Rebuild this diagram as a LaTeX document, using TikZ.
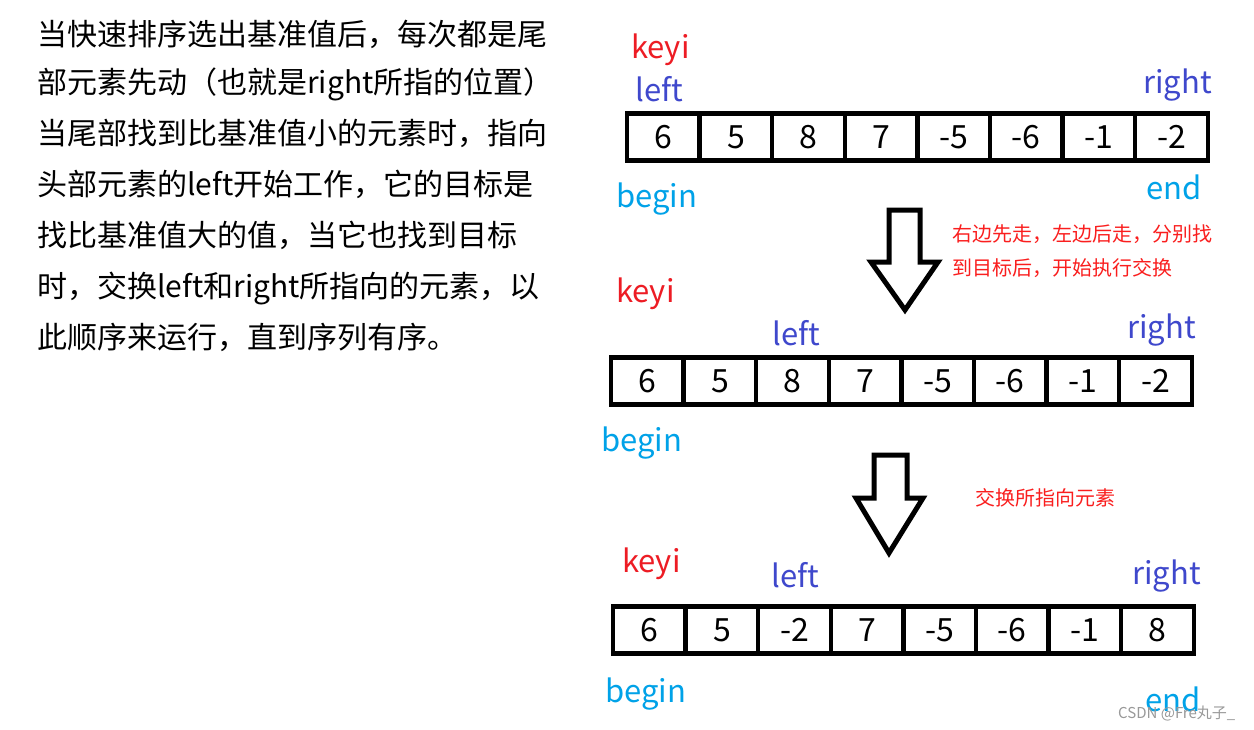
\documentclass[tikz,border=0pt]{standalone}
\usepackage{fontspec}
\newfontfamily\cjk{Noto Sans CJK SC}
\usetikzlibrary{positioning}
\definecolor{keyred}{RGB}{237,28,36}
\definecolor{ptrblue}{RGB}{63,72,204}
\definecolor{idxcyan}{RGB}{0,162,232}
\definecolor{notered}{RGB}{250,30,30}

\begin{document}
\begin{tikzpicture}[x=1pt, y=-1pt,
      cell/.style={draw, line width=4.5pt, minimum width=72.6pt, minimum height=47pt,
                   inner sep=0pt, outer sep=0pt, font={\cjk\fontsize{32}{34}\selectfont}},  % one array slot
      lbl/.style={inner sep=0pt, anchor=base west, font={\cjk\fontsize{31}{34}\selectfont}},
      keylbl/.style={lbl, text=keyred},                  % pivot index
      ptrlbl/.style={lbl, text=ptrblue},                 % left / right pointers
      idxlbl/.style={lbl, text=idxcyan},                 % begin / end
      note/.style={inner sep=0pt, anchor=north west, align=left, text=notered,
                   font={\cjk\fontsize{20}{34}\selectfont}},
      hollow/.style={draw, line width=5pt, fill=white}]  % big down arrow
    \useasboundingbox[fill=white] (0,0) rectangle (1254,729);

    % explanation on the left
    \node[anchor=north west, inner sep=0pt, align=left, font={\cjk\fontsize{30}{51}\selectfont}] (intro) at (37,20)
      {当快速排序选出基准值后，每次都是尾\\[-3pt]
       部元素先动（也就是right所指的位置）\\
       当尾部找到比基准值小的元素时，指向\\
       头部元素的left开始工作，它的目标是\\
       找比基准值大的值，当它也找到目标\\
       时，交换left和right所指向的元素，以\\
       此顺序来运行，直到序列有序。};

    % first array
    \foreach \v [count=\i] in {6,5,8,7,-5,-6,-1,-2}
      \node[cell] (a\i) at ({627+72.6*(\i-0.5)},137) {\v};
    \node[keylbl] (keya) at (631,58) {keyi};
    \node[ptrlbl] (lefta) at (635,101) {left};
    \node[ptrlbl] (righta) at (1143,93) {right};
    \node[idxlbl] (begina) at (616,207) {begin};
    \node[idxlbl] (enda) at (1146,199) {end};

    \draw[hollow] (889,210) -- (920,210) -- (920,262) -- (938,262) -- (905,310)
                  -- (871,262) -- (889,262) -- cycle;
    \node[note] (stepa) at (952,224) {右边先走，左边后走，分别找\\到目标后，开始执行交换};

    % second array
    \foreach \v [count=\i] in {6,5,8,7,-5,-6,-1,-2}
      \node[cell] (b\i) at ({611+72.6*(\i-0.5)},381) {\v};
    \node[keylbl] (keyb) at (616,302) {keyi};
    \node[ptrlbl] (leftb) at (772,345) {left};
    \node[ptrlbl] (rightb) at (1127,338) {right};
    \node[idxlbl] (beginb) at (601,451) {begin};

    \draw[hollow] (874,455) -- (907,455) -- (907,498) -- (923,498) -- (889,553)
                  -- (856,498) -- (874,498) -- cycle;
    \node[note] (stepb) at (975,488) {交换所指向元素};

    % third array, after the swap
    \foreach \v [count=\i] in {6,5,-2,7,-5,-6,-1}
      \node[cell] (c\i) at ({613+72.6*(\i-0.5)},630) {\v};
    \node[cell] (c8) at ({613+72.6*7.5},630) {\raisebox{-5pt}{8}};
    \node[keylbl] (keyc) at (622,572) {keyi};
    \node[ptrlbl] (leftc) at (771,587) {left};
    \node[ptrlbl] (rightc) at (1132,584) {right};
    \node[idxlbl] (beginc) at (605,702) {begin};
    \node[idxlbl] (endc) at (1145,711) {end};

    \node[inner sep=0pt, anchor=base west, text=black!40, font={\cjk\fontsize{15}{16}\selectfont}]
      (mark) at (1118,718) {CSDN @Fre丸子\_};
  \end{tikzpicture}
\end{document}
